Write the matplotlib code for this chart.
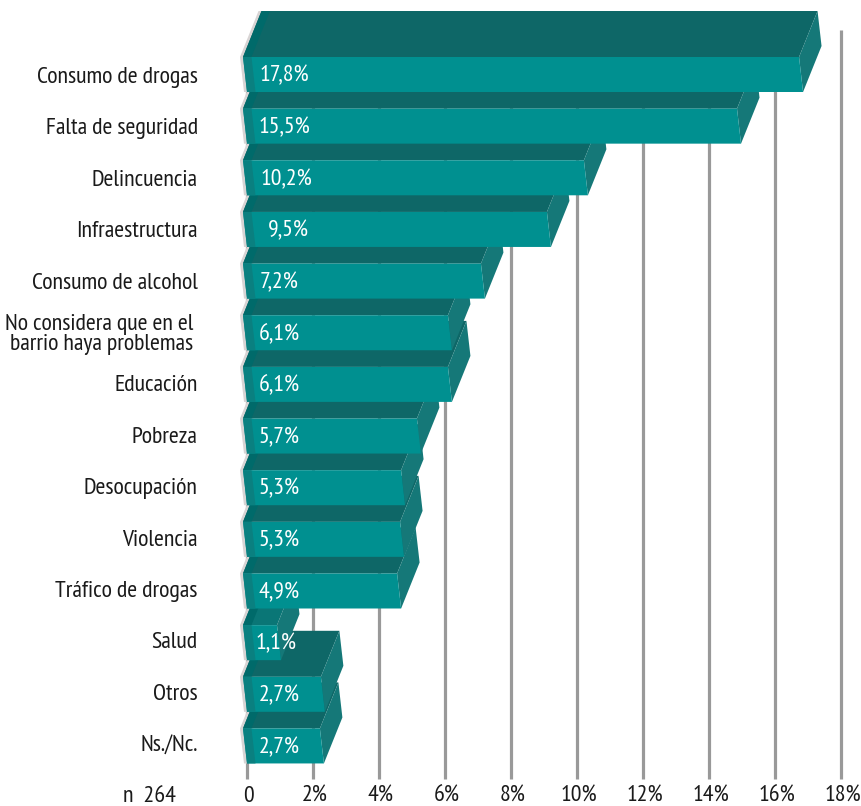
import matplotlib
matplotlib.use('Agg')

import matplotlib.pyplot as plt

# -------------------
# Data
# -------------------
categories = ["Consumo de drogas", "Falta de seguridad", "Delincuencia", "Infraestructura",
              "Consumo de alcohol", "No considera que en el\nbarrio haya problemas", "Educación",
              "Pobreza", "Desocupación", "Violencia", "Tráfico de drogas", "Salud", "Otros", "Ns./Nc."]
value_labels = ["17,8%", "15,5%", "10,2%", "9,5%", "7,2%", "6,1%", "6,1%",
                "5,7%", "5,3%", "5,3%", "4,9%", "1,1%", "2,7%", "2,7%"]
# the drawn bars do not quite follow the printed numbers, so lengths are read off the axis
bar_lengths = [16.85, 14.97, 10.33, 9.21, 7.21, 6.21, 6.21,
               5.27, 4.79, 4.76, 4.67, 1.03, 2.36, 2.33]
label_centers = [1.12, 1.12, 1.21, 1.24, 0.97, 0.97, 0.97, 0.97, 0.97, 0.97, 0.97, 0.88, 0.97, 0.97]
tick_values = [0, 2, 4, 6, 8, 10, 12, 14, 16, 18]
tick_labels = ["0", "2%", "4%", "6%", "8%", "10%", "12%", "14%", "16%", "18%"]

# -------------------
# Styles and 3D look
# -------------------
FRONT = '#009090'
LEFT = '#0a8080'
TOP = '#0e6767'
TOP_SALUD = '#0a7676'
TOP_LEFT = '#006a6a'
SIDE = '#157878'
GRID = '#999999'
TEXT = '#1a1a1a'

plt.rcParams['font.family'] = ['PT Sans Narrow', 'Liberation Sans', 'DejaVu Sans']
FS = 17.2

PX_X = 33.0     # pixels per percent
PX_Y = 51.65    # pixels per row
half_h = 17.5 / PX_Y
skew = 4 / PX_X
dep_x = 18.5 / PX_X
dep_y = 46 / PX_Y
strip_w = 8.5 / PX_X

fig = plt.figure(figsize=(8.62, 8.06), dpi=100)
ax = fig.add_axes([0, 0, 1, 1])
ax.set_xlim(-247 / PX_X, (862 - 247) / PX_X)
ax.set_ylim((806 - 74.5) / PX_Y, -74.5 / PX_Y)
ax.axis('off')

# Grid lines stand behind the bars, the zero line only shows below the last bar
ax.vlines(tick_values[1:], (30 - 74.5) / PX_Y, (779 - 74.5) / PX_Y, color=GRID, lw=2.3, zorder=1)
ax.vlines(tick_values[0], 0, (779 - 74.5) / PX_Y, color=GRID, lw=2.3, zorder=1)

# Lower bars first, each upper bar covers the one below it
for i in range(len(categories) - 1, -1, -1):
    v = bar_lengths[i]
    z = 2 + (len(categories) - i) * 0.1
    yt, yb = i - half_h, i + half_h
    x0b = 0
    x0t = x0b - skew

    # soft shadow on the left
    ax.fill([x0t - 3 / PX_X, x0t + dep_x - 3 / PX_X, x0t + dep_x, x0b, x0b - 3 / PX_X],
            [yt, yt - dep_y, yt - dep_y, yb, yb], color='#d8d4d4', lw=0, zorder=z)
    # top and the darker strip on its left
    top_col = TOP_SALUD if categories[i] == "Salud" else TOP
    ax.fill([x0t, v - skew, v - skew + dep_x, x0t + dep_x],
            [yt, yt, yt - dep_y, yt - dep_y], color=top_col, lw=0, zorder=z)
    ax.fill([x0t, x0t + strip_w, x0t + strip_w + dep_x, x0t + dep_x],
            [yt, yt, yt - dep_y, yt - dep_y], color=TOP_LEFT, lw=0, zorder=z)
    # right side
    ax.fill([v - skew, v, v + dep_x, v - skew + dep_x],
            [yt, yb, yb - dep_y, yt - dep_y], color=SIDE, lw=0, zorder=z)
    # front and left strip
    ax.fill([x0t, v - skew, v, x0b], [yt, yt, yb, yb], color=FRONT, lw=0, zorder=z)
    ax.fill([x0t, x0t + strip_w, x0b + strip_w, x0b], [yt, yt, yb, yb], color=LEFT, lw=0, zorder=z)

    ax.text(label_centers[i], i + 0.03, value_labels[i], color='white', fontsize=FS,
            ha='center', va='center', zorder=z + 0.05)

    # category names sit a little tighter than the bars
    label_x = -1.49 if '\n' not in categories[i] else -1.64
    ax.text(label_x, i * 0.995 + 0.06, categories[i], color=TEXT, fontsize=FS, ha='right', va='center',
            linespacing=0.95)

for t, lab in zip(tick_values, tick_labels):
    ax.text(t + 0.05, (796 - 74.5) / PX_Y, lab, color=TEXT, fontsize=FS, ha='center', va='center')
ax.text(-2.14, (796 - 74.5) / PX_Y, "n  264", color=TEXT, fontsize=FS, ha='right', va='center')

plt.savefig('out.png', dpi=100)
